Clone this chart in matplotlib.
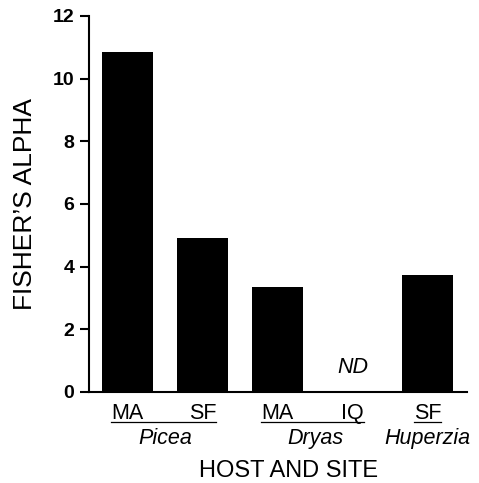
import numpy as np
from matplotlib import pyplot as plt

plt.rcParams['font.family'] = ['Liberation Sans', 'DejaVu Sans']

# Fisher's alpha per host/site (IQ on Dryas: no data)
sites = ['MA', 'SF', 'MA', 'IQ', 'SF']
hosts = ['Picea', 'Dryas', 'Huperzia']
host_of_site = [0, 0, 1, 1, 2]
alpha = [10.85, 4.92, 3.35, np.nan, 3.74]
yticks = [0, 2, 4, 6, 8, 10, 12]

fig = plt.figure(figsize=(4.79, 4.83), dpi=100)
ax = fig.add_axes([89/479, 1 - 392/483, 378/479, 376/483])

x = np.arange(len(sites))
vals = np.array(alpha, dtype=float)
ok = ~np.isnan(vals)
ax.bar(x[ok], vals[ok], width=0.68, color='black')
for i in x[~ok]:
    ax.text(i, 0.6, 'ND', ha='center', va='baseline', style='italic', fontsize=15.5)

ax.set_xlim(-0.513, 4.527)
ax.set_ylim(0, 12)
ax.set_yticks(yticks)
ax.set_yticklabels([str(t) for t in yticks], fontweight='bold', fontsize=14)
ax.tick_params(axis='y', direction='out', length=6.5, width=1.5, pad=4)
ax.set_xticks([])
for s in ['top', 'right']:
    ax.spines[s].set_visible(False)
for s in ['left', 'bottom']:
    ax.spines[s].set_linewidth(1.5)

trans = ax.get_xaxis_transform()
site_txt = []
for i, s in enumerate(sites):
    t = ax.annotate(s, xy=(i, 0), xycoords=trans, xytext=(0, -19.4),
                    textcoords='offset points', ha='center', va='baseline',
                    fontsize=15.5, annotation_clip=False)
    site_txt.append(t)

for h, name in enumerate(hosts):
    idx = [i for i, g in enumerate(host_of_site) if g == h]
    ax.annotate(name, xy=(np.mean(idx), 0), xycoords=trans, xytext=(0, -37.4),
                textcoords='offset points', ha='center', va='baseline',
                style='italic', fontsize=15.5, annotation_clip=False)

# underline each host group of site labels
fig.canvas.draw()
r = fig.canvas.get_renderer()
inv = fig.transFigure.inverted()
for h in range(len(hosts)):
    idx = [i for i, g in enumerate(host_of_site) if g == h]
    x0 = site_txt[idx[0]].get_window_extent(r).x0
    x1 = site_txt[idx[-1]].get_window_extent(r).x1
    y = 483 - 422
    (fx0, fy), (fx1, _) = inv.transform([(x0, y), (x1, y)])
    fig.add_artist(plt.Line2D([fx0, fx1], [fy, fy], color='black', lw=0.9))

fig.text(289/479, 1 - 471/483, 'HOST AND SITE', ha='center', va='center', fontsize=17)
fig.text(25/479, 1 - 204/483, 'FISHER\u2019S ALPHA', ha='center', va='center',
         rotation=90, fontsize=19)

fig.savefig('out.png', dpi=100)
